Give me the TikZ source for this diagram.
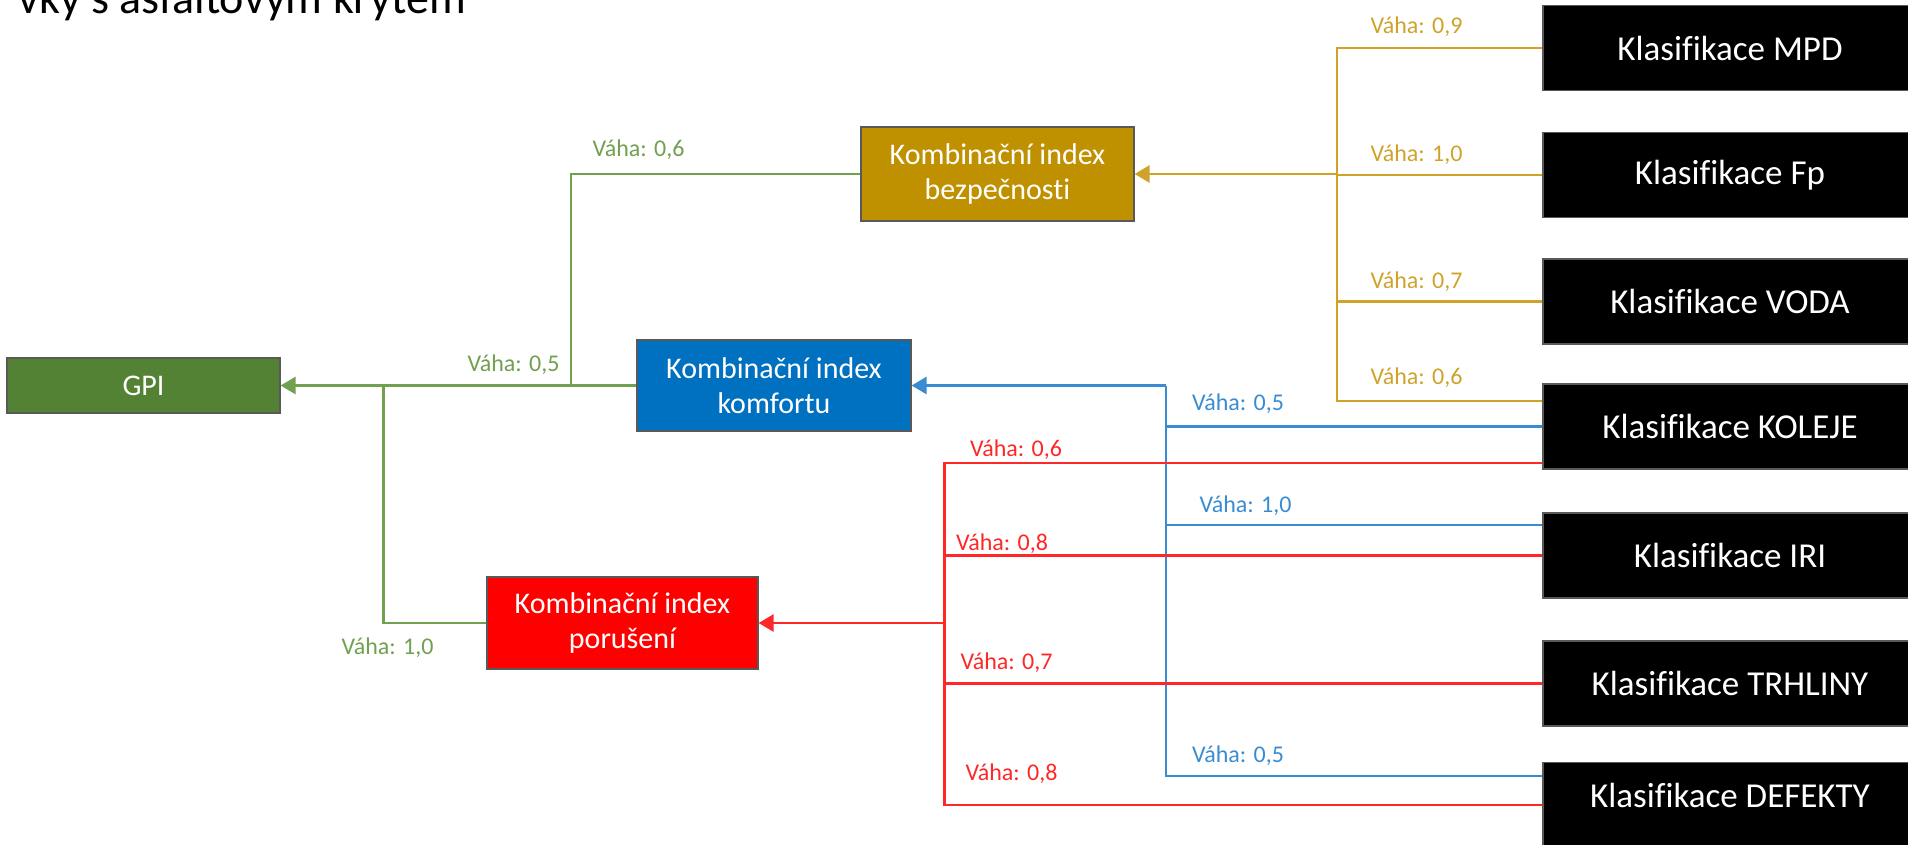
\documentclass[tikz,border=0pt]{standalone}
\usepackage{fontspec}
\setmainfont{Carlito}[Ligatures=NoCommon]
\usetikzlibrary{arrows.meta}

\definecolor{gpifill}{RGB}{84,130,53}
\definecolor{bezfill}{RGB}{191,144,0}
\definecolor{komfill}{RGB}{0,112,192}
\definecolor{porfill}{RGB}{255,0,0}
\definecolor{goldline}{RGB}{207,162,42}
\definecolor{greenline}{RGB}{112,160,80}
\definecolor{blueline}{RGB}{58,140,210}
\definecolor{redline}{RGB}{255,40,40}

\begin{document}
\begin{tikzpicture}[x=1pt,y=-1pt,
  box/.style={draw=black!65, line width=1.2pt, inner sep=0pt, align=center,
    text=white, font=\fontsize{30}{35}\selectfont},
  klas/.style={box, fill=black, minimum width=374pt, minimum height=85pt,
    font=\fontsize{35}{40}\selectfont},
  weight/.style={inner sep=0pt, font=\fontsize{24}{28}\selectfont},
  conn/.style={line width=2.8pt},
  arr/.style={-{Triangle[length=15pt,width=17pt]}},
  gold/.style={conn, draw=goldline},
  grn/.style={conn, draw=greenline},
  blu/.style={conn, draw=blueline},
  rd/.style={conn, draw=redline}]
\clip (0,0) rectangle (1908,844);

% heading line, partly outside the frame
\node[anchor=base east, inner sep=0pt, font=\fontsize{46}{50}\selectfont] (title) at (466,13) {vky s asfaltovým krytem};

% index boxes
\node[box, fill=gpifill, minimum width=273pt, minimum height=55pt] (gpi) at (143.5,385.5) {GPI};
\node[box, fill=bezfill, minimum width=273pt, minimum height=94pt] (bez) at (997.5,174) {Kombinační index\\bezpečnosti};
\node[box, fill=komfill, minimum width=274pt, minimum height=91pt] (kom) at (774,385.5) {Kombinační index\\komfortu};
\node[box, fill=porfill, minimum width=271pt, minimum height=92pt] (por) at (622.5,623) {Kombinační index\\porušení};

% classification boxes
\node[klas] (mpd) at (1730,48) {Klasifikace MPD};
\node[klas] (fp) at (1730,175) {Klasifikace Fp};
\node[klas] (voda) at (1730,301.5) {Klasifikace VODA};
\node[klas] (kol) at (1730,426.5) {Klasifikace KOLEJE};
\node[klas] (iri) at (1730,555.5) {Klasifikace IRI};
\node[klas] (trh) at (1730,683.5) {Klasifikace TRHLINY};
\node[klas] (def) at (1730,805) {\raisebox{10pt}[\height][\depth]{Klasifikace DEFEKTY}};

% junction points
\coordinate (gj) at (1337,174);
\coordinate (bj) at (1166,385.5);
\coordinate (rj) at (944.5,623);
\coordinate (gn1) at (571,385.5);
\coordinate (gn2) at (383.5,385.5);

% safety branch
\draw[gold] (mpd.west) -| (gj);
\draw[gold] ([yshift=25.5pt]kol.west) -| (gj);
\draw[gold] (voda.west) -| (gj);
\draw[gold] (fp.west) -- (gj |- fp.west);
\draw[gold, arr] (gj) -- (bez.east);

% comfort branch
\draw[blu] (kol.west) -| (bj);
\draw[blu] ([yshift=30.5pt]iri.west) -| (bj);
\draw[blu] ([yshift=29pt]def.west) -| (bj);
\draw[blu, arr] (bj) -- (kom.east);

% damage branch
\draw[rd] ([yshift=-36.5pt]kol.west) -| (rj);
\draw[rd] (iri.west) -| (rj);
\draw[rd] (trh.west) -| (rj);
\draw[rd] (def.west) -| (rj);
\draw[rd, arr] (rj) -- (por.east);

% overall index
\draw[grn] (bez.west) -| (gn1);
\draw[grn] (por.west) -| (gn2);
\draw[grn, arr] (kom.west) -- (gpi.east);

% weights
\node[weight, text=goldline] (wg1) at (1416.5,27) {Váha: 0,9};
\node[weight, text=goldline] (wg2) at (1416.5,155) {Váha: 1,0};
\node[weight, text=goldline] (wg3) at (1416.5,282) {Váha: 0,7};
\node[weight, text=goldline] (wg4) at (1416.5,378) {Váha: 0,6};

\node[weight, text=greenline] (wn1) at (638.5,150) {Váha: 0,6};
\node[weight, text=greenline] (wn2) at (513.5,365) {Váha: 0,5};
\node[weight, text=greenline] (wn3) at (387.5,648) {Váha: 1,0};

\node[weight, text=blueline] (wb1) at (1238,404) {Váha: 0,5};
\node[weight, text=blueline] (wb2) at (1245.5,506) {Váha: 1,0};
\node[weight, text=blueline] (wb3) at (1238,756) {Váha: 0,5};

\node[weight, text=redline] (wr1) at (1016,450) {Váha: 0,6};
\node[weight, text=redline] (wr2) at (1002,544) {Váha: 0,8};
\node[weight, text=redline] (wr3) at (1006.5,663) {Váha: 0,7};
\node[weight, text=redline] (wr4) at (1011.5,774) {Váha: 0,8};
\end{tikzpicture}
\end{document}
